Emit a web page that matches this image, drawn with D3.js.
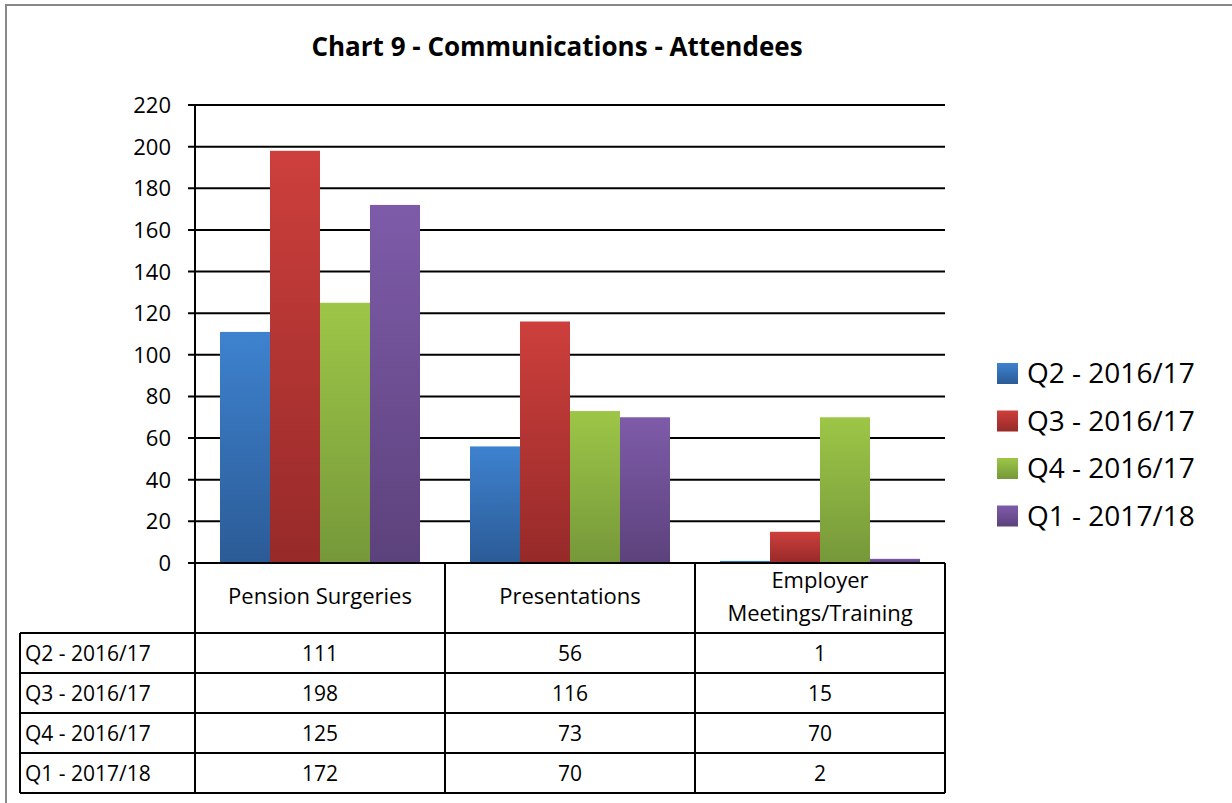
<!DOCTYPE html>
<html>
<head>
<meta charset="utf-8">
<script src="https://cdn.jsdelivr.net/npm/d3@7"></script>
<style>
  body { margin: 0; background: #fff; }
  svg text { font-family: "Open Sans", sans-serif; fill: #000; }
</style>
</head>
<body>
<svg id="chart" width="1232" height="803"></svg>
<script>
// data
var categories = ["Pension Surgeries", "Presentations", "Employer Meetings/Training"];
var series = ["Q2 - 2016/17", "Q3 - 2016/17", "Q4 - 2016/17", "Q1 - 2017/18"];
var q2_1617 = [111, 56, 1];
var q3_1617 = [198, 116, 15];
var q4_1617 = [125, 73, 70];
var q1_1718 = [172, 70, 2];
var values = [q2_1617, q3_1617, q4_1617, q1_1718];
var yTicks = [0, 20, 40, 60, 80, 100, 120, 140, 160, 180, 200, 220];

var colTop = ["#3e82cf", "#cd3f3c", "#9dc647", "#7e5ba9"];
var colBot = ["#2b5b96", "#962a29", "#76983a", "#5c427c"];

var svg = d3.select("#chart");
var defs = svg.append("defs");

colTop.forEach(function (c, i) {
    var g = defs.append("linearGradient")
        .attr("id", "grad" + i)
        .attr("x1", 0).attr("y1", 0).attr("x2", 0).attr("y2", 1);
    g.append("stop").attr("offset", "0%").attr("stop-color", c);
    g.append("stop").attr("offset", "100%").attr("stop-color", colBot[i]);
});

// outer frame
svg.append("rect")
    .attr("x", 6).attr("y", 5)
    .attr("width", 1240).attr("height", 810)
    .attr("fill", "none")
    .attr("stroke", "#888").attr("stroke-width", 2);

var plotLeft = 195, plotRight = 945, plotTop = 105, plotBottom = 563;

var x = d3.scaleBand().domain(categories).range([plotLeft, plotRight]);
var xs = d3.scaleBand().domain(series).range([0, x.bandwidth()]).paddingOuter(0.5);
var y = d3.scaleLinear().domain([0, 220]).range([plotBottom, plotTop]);

// title
svg.append("text")
    .attr("x", 557).attr("y", 56)
    .attr("text-anchor", "middle")
    .style("font-size", "26px").style("font-weight", "bold")
    .text("Chart 9 - Communications - Attendees");

// gridlines + ticks
svg.append("g").selectAll("line").data(yTicks).enter().append("line")
    .attr("x1", plotLeft - 7).attr("x2", plotRight)
    .attr("y1", function (d) { return y(d); })
    .attr("y2", function (d) { return y(d); })
    .attr("stroke", "#000").attr("stroke-width", 2);

svg.append("g").selectAll("text").data(yTicks).enter().append("text")
    .attr("x", plotLeft - 24)
    .attr("y", function (d) { return y(d) + 8; })
    .attr("text-anchor", "end")
    .style("font-size", "22px")
    .text(function (d) { return d; });

// bars
var groups = svg.append("g").selectAll("g").data(series).enter().append("g");
groups.selectAll("rect")
    .data(function (s, i) {
        return categories.map(function (c, j) { return { s: s, i: i, c: c, v: values[i][j] }; });
    })
    .enter().append("rect")
    .attr("x", function (d) { return x(d.c) + xs(d.s); })
    .attr("width", xs.bandwidth())
    .attr("y", function (d) { return y(d.v); })
    .attr("height", function (d) { return y(0) - y(d.v); })
    .attr("fill", function (d) { return "url(#grad" + d.i + ")"; });

// y axis line
svg.append("line")
    .attr("x1", plotLeft).attr("x2", plotLeft)
    .attr("y1", plotTop).attr("y2", plotBottom)
    .attr("stroke", "#000").attr("stroke-width", 2);

// data table
var tableLeft = 20, headerBottom = 633, rowH = 40;
var rowsBottom = headerBottom + rowH * series.length;
var tbl = svg.append("g").attr("stroke", "#000").attr("stroke-width", 2);

// vertical lines
[plotLeft].concat(categories.map(function (c) { return x(c) + x.bandwidth(); })).forEach(function (xx) {
    tbl.append("line").attr("x1", xx).attr("x2", xx).attr("y1", plotBottom).attr("y2", rowsBottom);
});
tbl.append("line").attr("x1", tableLeft).attr("x2", tableLeft).attr("y1", headerBottom).attr("y2", rowsBottom);
// horizontal lines
tbl.append("line").attr("x1", plotLeft).attr("x2", plotRight).attr("y1", plotBottom).attr("y2", plotBottom);
d3.range(series.length + 1).forEach(function (k) {
    var yy = headerBottom + k * rowH;
    tbl.append("line").attr("x1", tableLeft).attr("x2", plotRight).attr("y1", yy).attr("y2", yy);
});

// category header labels
svg.append("g").selectAll("text").data(categories).enter().append("text")
    .attr("x", function (d) { return x(d) + x.bandwidth() / 2; })
    .attr("text-anchor", "middle")
    .style("font-size", "22px")
    .each(function (d) {
        var t = d3.select(this);
        if (d === "Employer Meetings/Training") {
            t.append("tspan").attr("x", x(d) + x.bandwidth() / 2).attr("y", 588).text("Employer");
            t.append("tspan").attr("x", x(d) + x.bandwidth() / 2).attr("y", 621).text("Meetings/Training");
        } else {
            t.attr("y", 604).text(d);
        }
    });

// row labels and values
series.forEach(function (s, i) {
    var yy = headerBottom + i * rowH + 28;
    svg.append("text")
        .attr("x", tableLeft + 5).attr("y", yy)
        .style("font-size", "21px")
        .text(s);
    categories.forEach(function (c, j) {
        svg.append("text")
            .attr("x", x(c) + x.bandwidth() / 2).attr("y", yy)
            .attr("text-anchor", "middle")
            .style("font-size", "21px")
            .text(values[i][j]);
    });
});

// legend
var legend = svg.append("g").selectAll("g").data(series).enter().append("g")
    .attr("transform", function (d, i) { return "translate(997," + (363 + i * 47.5) + ")"; });
legend.append("rect")
    .attr("width", 21).attr("height", 21)
    .attr("fill", function (d, i) { return "url(#grad" + i + ")"; });
legend.append("text")
    .attr("x", 30).attr("y", 20)
    .style("font-size", "28px")
    .text(function (d) { return d; });
</script>
</body>
</html>
